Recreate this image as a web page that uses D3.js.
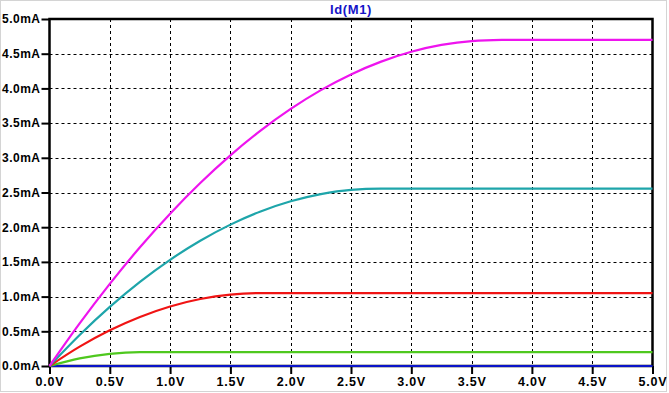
<!DOCTYPE html>
<html>
<head>
<meta charset="utf-8">
<script src="https://cdn.jsdelivr.net/npm/d3@7"></script>
<style>
  html, body { margin: 0; padding: 0; background: #ffffff; }
  svg { display: block; }
  text { font-family: "Liberation Sans", Arial, sans-serif; font-weight: bold; font-size: 12px; }
</style>
</head>
<body>
<script>
// ---- data ----
const title = "Id(M1)";
const vds = [0, 0.25, 0.5, 0.75, 1.0, 1.25, 1.5, 1.75, 2.0, 2.25, 2.5, 2.75, 3.0, 3.25, 3.5, 3.75, 4.0, 4.25, 4.5, 4.75, 5.0];
const idMagenta = [0, 0.613, 1.183, 1.711, 2.195, 2.637, 3.036, 3.391, 3.704, 3.975, 4.202, 4.386, 4.528, 4.626, 4.682, 4.698, 4.70, 4.70, 4.70, 4.70, 4.70];
const idCyan    = [0, 0.447, 0.851, 1.212, 1.530, 1.805, 2.037, 2.227, 2.374, 2.477, 2.538, 2.555, 2.555, 2.555, 2.555, 2.555, 2.555, 2.555, 2.555, 2.555, 2.555];
const idRed     = [0, 0.279, 0.515, 0.707, 0.858, 0.965, 1.029, 1.050, 1.050, 1.050, 1.050, 1.050, 1.050, 1.050, 1.050, 1.050, 1.050, 1.050, 1.050, 1.050, 1.050];
const idGreen   = [0, 0.110, 0.176, 0.200, 0.200, 0.200, 0.200, 0.200, 0.200, 0.200, 0.200, 0.200, 0.200, 0.200, 0.200, 0.200, 0.200, 0.200, 0.200, 0.200, 0.200];
const idBlue    = [0, 0, 0, 0, 0, 0, 0, 0, 0, 0, 0, 0, 0, 0, 0, 0, 0, 0, 0, 0, 0];
const xTicks = [0, 0.5, 1.0, 1.5, 2.0, 2.5, 3.0, 3.5, 4.0, 4.5, 5.0];
const yTicks = [0, 0.5, 1.0, 1.5, 2.0, 2.5, 3.0, 3.5, 4.0, 4.5, 5.0];

const seriesList = [
  { values: idBlue,    color: "#0a14c8" },
  { values: idGreen,   color: "#4ec81e" },
  { values: idRed,     color: "#f01414" },
  { values: idCyan,    color: "#1ea5aa" },
  { values: idMagenta, color: "#ee14ee" }
];

// ---- layout ----
const W = 669, H = 393;
const mLeft = 49.5, mRight = 652.5, mTop = 19, mBottom = 366;

const svg = d3.select("body").append("svg").attr("width", W).attr("height", H);
svg.append("rect").attr("x", 0).attr("y", 0).attr("width", W).attr("height", H).attr("fill", "#ffffff");
// faint window border
svg.append("rect").attr("x", 0.5).attr("y", 0.5).attr("width", 666).attr("height", 391)
  .attr("fill", "none").attr("stroke", "#d4d4d4").attr("stroke-width", 1);

const x = d3.scaleLinear().domain([0, 5]).range([mLeft, mRight]);
const y = d3.scaleLinear().domain([0, 5]).range([mBottom, mTop]);

// grid
const grid = svg.append("g");
grid.selectAll("line.vg").data(xTicks.slice(1, -1)).join("line")
  .attr("x1", d => Math.round(x(d)) + 0.5).attr("x2", d => Math.round(x(d)) + 0.5)
  .attr("y1", mTop).attr("y2", mBottom)
  .attr("stroke", "#000").attr("stroke-width", 1).attr("stroke-dasharray", "3,3");
grid.selectAll("line.hg").data(yTicks.slice(1, -1)).join("line")
  .attr("y1", d => Math.round(y(d)) + 0.5).attr("y2", d => Math.round(y(d)) + 0.5)
  .attr("x1", mLeft).attr("x2", mRight)
  .attr("stroke", "#000").attr("stroke-width", 1).attr("stroke-dasharray", "3,3");

// axes
const yAxis = d3.axisLeft(y).tickValues(yTicks).tickSize(8).tickPadding(1)
  .tickFormat(d => d3.format(".1f")(d) + "mA");
const gy = svg.append("g").attr("transform", `translate(${mLeft},0)`).call(yAxis);
gy.select(".domain").remove();
gy.selectAll(".tick line").attr("stroke", "#000").attr("stroke-width", 2);
gy.selectAll(".tick text").attr("fill", "#000").style("font-size", "12px")
  .style("letter-spacing", "0.5px")
  .style("font-family", "'Liberation Sans', Arial, sans-serif").style("font-weight", "bold");

const xAxis = d3.axisBottom(x).tickValues(xTicks).tickSize(8).tickPadding(3)
  .tickFormat(d => d3.format(".1f")(d) + "V");
const gx = svg.append("g").attr("transform", `translate(0,${mBottom})`).call(xAxis);
gx.select(".domain").remove();
gx.selectAll(".tick line").attr("stroke", "#000").attr("stroke-width", 2);
gx.selectAll(".tick text").attr("fill", "#000").style("font-size", "12.5px")
  .style("letter-spacing", "0.8px")
  .style("font-family", "'Liberation Sans', Arial, sans-serif").style("font-weight", "bold");

// frame
svg.append("rect").attr("x", mLeft).attr("y", mTop).attr("width", mRight - mLeft).attr("height", mBottom - mTop)
  .attr("fill", "none").attr("stroke", "#000").attr("stroke-width", 2.5);

// traces
const line = d3.line().x((d, i) => x(vds[i])).y(d => y(d)).curve(d3.curveMonotoneX);
svg.append("g").selectAll("path").data(seriesList).join("path")
  .attr("d", s => line(s.values))
  .attr("fill", "none").attr("stroke", s => s.color).attr("stroke-width", 2.2);

// title
svg.append("text").attr("x", (mLeft + mRight) / 2).attr("y", 14).attr("text-anchor", "middle")
  .attr("fill", "#1414c8").style("font-size", "13px").style("letter-spacing", "0.6px").text(title);
</script>
</body>
</html>
